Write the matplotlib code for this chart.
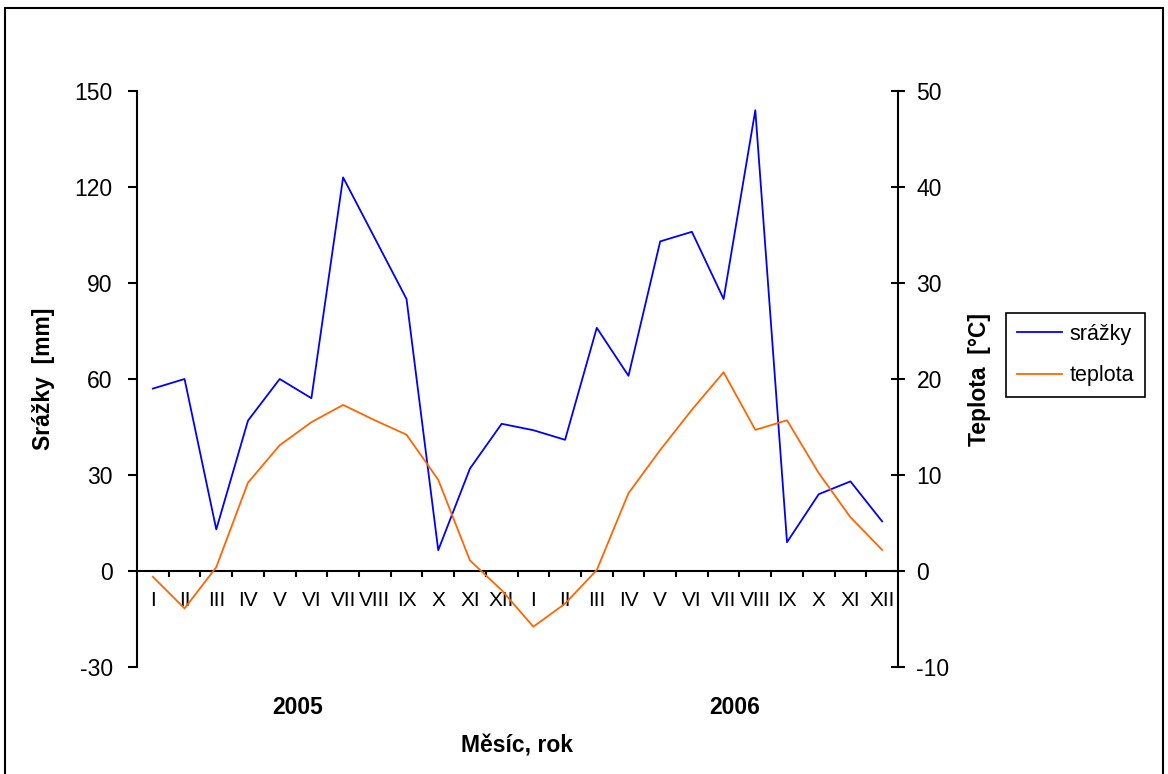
import matplotlib
matplotlib.use("Agg")
import matplotlib.pyplot as plt
from matplotlib.patches import Rectangle

plt.rcParams['font.family'] = ['Liberation Sans', 'DejaVu Sans']
plt.rcParams['axes.unicode_minus'] = False

mesice = ['I', 'II', 'III', 'IV', 'V', 'VI', 'VII', 'VIII', 'IX', 'X', 'XI', 'XII']
roky = ['2005', '2006']
popisky = mesice * 2

srazky = [57, 60, 13, 47, 60, 54, 123, 104, 85, 6.5, 32, 46,
          44, 41, 76, 61, 103, 106, 85, 144, 9, 24, 28, 15.5]
teplota = [-0.6, -3.9, 0.4, 9.2, 13.1, 15.5, 17.3, 15.7, 14.2, 9.5, 1.1, -2.0,
           -5.8, -3.4, 0.1, 8.1, 12.6, 16.8, 20.7, 14.7, 15.7, 10.2, 5.6, 2.2]

x = list(range(len(srazky)))

fig = plt.figure(figsize=(11.68, 7.74), dpi=100)
ax = fig.add_axes([137/1168, 1 - 667/774, 761/1168, 576/774])
ax2 = ax.twinx()

l1, = ax.plot(x, srazky, color='#0000FF', lw=1.3, label='srážky')
l2, = ax2.plot(x, teplota, color='#FF6600', lw=1.3, label='teplota')

ax.set_xlim(-0.5, len(x) - 0.5)
ax.set_ylim(-30, 150)
ax.set_yticks(range(-30, 151, 30))
ax2.set_ylim(-10, 50)
ax2.set_yticks(range(-10, 51, 10))

# spiny jak v Excelu
for s in ['top', 'right']:
    ax.spines[s].set_visible(False)
ax.spines['bottom'].set_position(('data', 0))
for s in ['top', 'left', 'bottom']:
    ax2.spines[s].set_visible(False)
for sp in [ax.spines['left'], ax.spines['bottom'], ax2.spines['right']]:
    sp.set_linewidth(1.5)

# kategorie - carky mezi mesici, popisky uprostred
ax.set_xticks([i - 0.5 for i in range(1, len(x))])
ax.set_xticklabels([])
ax.set_xticks(x, minor=True)
ax.set_xticklabels(popisky, minor=True)
ax.tick_params(axis='x', which='major', direction='out', length=4.5, width=1.5)
ax.tick_params(axis='x', which='minor', length=0, pad=14.5, labelsize=15)
ax.tick_params(axis='y', direction='out', length=6.5, width=1.5, pad=11, labelsize=16.5)
ax2.tick_params(axis='y', direction='inout', length=9.5, width=1.5, pad=8.5, labelsize=16.5)

ax.set_ylabel('Srážky  [mm]', fontsize=16.5, fontweight='bold')
ax.yaxis.set_label_coords(-0.108, 0.5)
ax2.set_ylabel('Teplota  [°C]', fontsize=16.5, fontweight='bold')
ax2.yaxis.set_label_coords(1.092, 0.5)

tr = ax.get_xaxis_transform()
ax.text(4.55, -0.071, roky[0], transform=tr, ha='center', va='center', fontsize=16.5, fontweight='bold')
ax.text(18.36, -0.071, roky[1], transform=tr, ha='center', va='center', fontsize=16.5, fontweight='bold')
fig.text(517/1168, 1 - 746/774, 'Měsíc, rok', ha='center', va='center', fontsize=16.5, fontweight='bold')

leg = fig.legend(handles=[l1, l2], loc='upper left', bbox_to_anchor=(1006/1168, 1 - 313/774),
                 fontsize=15.5, fancybox=False, framealpha=1, edgecolor='black',
                 handlelength=2.1, handletextpad=0.35, borderaxespad=0,
                 labelspacing=0.95, borderpad=0.5)
leg.get_frame().set_linewidth(1.2)

fig.patches.append(Rectangle((5/1168, -0.02), 1158/1168, 1.02 - 8/774, transform=fig.transFigure,
                             fill=False, edgecolor='black', lw=1.5))

fig.savefig('out.png', dpi=100)
